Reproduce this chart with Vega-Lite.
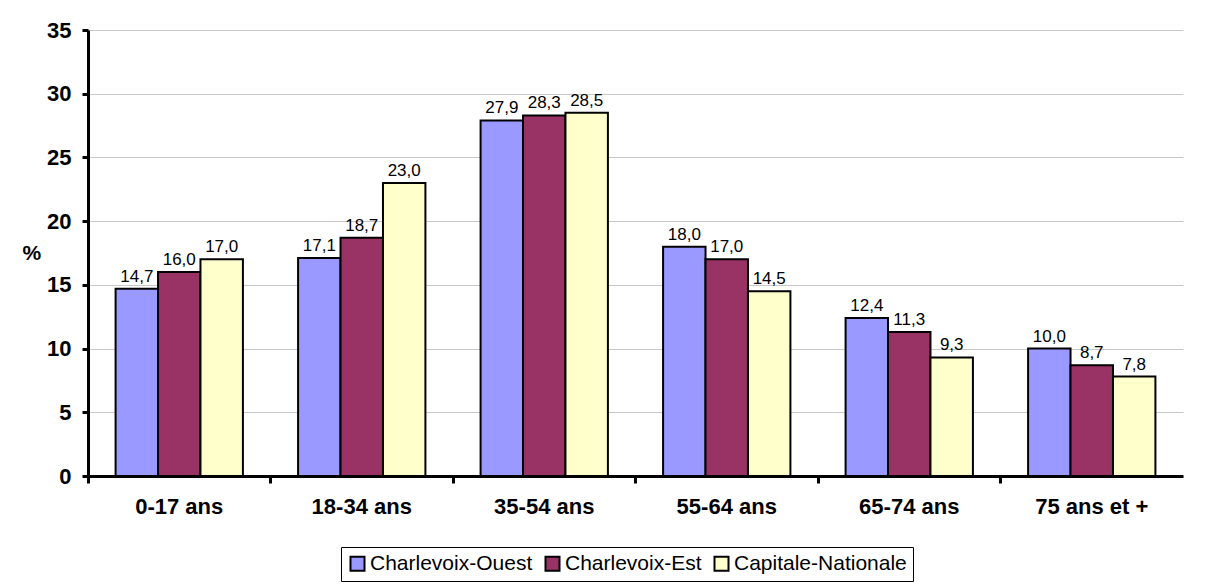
{
  "$schema": "https://vega.github.io/schema/vega-lite/v6.json",
  "width": 1095,
  "height": 446,
  "autosize": {"type": "none"},
  "padding": {"left": 88, "top": 30, "right": 32, "bottom": 112},
  "background": "white",
  "config": {
    "font": "Liberation Sans",
    "view": {"stroke": null},
    "locale": {"number": {"decimal": ",", "thousands": " ", "grouping": [3], "currency": ["", " $"]}}
  },
  "data": {
    "values": [
      {"age": "0-17 ans", "region": "Charlevoix-Ouest", "pct": 14.7},
      {"age": "0-17 ans", "region": "Charlevoix-Est", "pct": 16.0},
      {"age": "0-17 ans", "region": "Capitale-Nationale", "pct": 17.0},
      {"age": "18-34 ans", "region": "Charlevoix-Ouest", "pct": 17.1},
      {"age": "18-34 ans", "region": "Charlevoix-Est", "pct": 18.7},
      {"age": "18-34 ans", "region": "Capitale-Nationale", "pct": 23.0},
      {"age": "35-54 ans", "region": "Charlevoix-Ouest", "pct": 27.9},
      {"age": "35-54 ans", "region": "Charlevoix-Est", "pct": 28.3},
      {"age": "35-54 ans", "region": "Capitale-Nationale", "pct": 28.5},
      {"age": "55-64 ans", "region": "Charlevoix-Ouest", "pct": 18.0},
      {"age": "55-64 ans", "region": "Charlevoix-Est", "pct": 17.0},
      {"age": "55-64 ans", "region": "Capitale-Nationale", "pct": 14.5},
      {"age": "65-74 ans", "region": "Charlevoix-Ouest", "pct": 12.4},
      {"age": "65-74 ans", "region": "Charlevoix-Est", "pct": 11.3},
      {"age": "65-74 ans", "region": "Capitale-Nationale", "pct": 9.3},
      {"age": "75 ans et +", "region": "Charlevoix-Ouest", "pct": 10.0},
      {"age": "75 ans et +", "region": "Charlevoix-Est", "pct": 8.7},
      {"age": "75 ans et +", "region": "Capitale-Nationale", "pct": 7.8}
    ]
  },
  "encoding": {
    "x": {
      "field": "age", "type": "nominal", "sort": null,
      "scale": {"paddingInner": 0, "paddingOuter": 0},
      "axis": {
        "title": null, "labelAngle": 0, "bandPosition": 0, "labelLimit": 0,
        "labelFontSize": 22, "labelFontWeight": "bold", "labelColor": "black",
        "labelPadding": 13, "domainColor": "black", "domainWidth": 3,
        "tickColor": "black", "tickWidth": 3, "tickSize": 7, "grid": false
      }
    },
    "xOffset": {
      "field": "region", "type": "nominal", "sort": ["Charlevoix-Ouest", "Charlevoix-Est", "Capitale-Nationale"],
      "scale": {"paddingInner": 0, "paddingOuter": 0.65}
    },
    "y": {
      "field": "pct", "type": "quantitative",
      "scale": {"domain": [0, 35], "nice": false},
      "axis": {
        "title": "%", "titleAngle": 0, "titleFontSize": 21, "titleFontWeight": "bold",
        "titleX": -66, "titleY": 223, "titleAlign": "left", "titleBaseline": "middle",
        "values": [0, 5, 10, 15, 20, 25, 30, 35],
        "labelFontSize": 22, "labelFontWeight": "bold", "labelColor": "black",
        "labelPadding": 11,
        "domainColor": "black", "domainWidth": 3,
        "tickColor": "black", "tickWidth": 3, "tickSize": 6,
        "grid": true, "gridColor": "#c8c8c8", "gridWidth": 1
      }
    }
  },
  "layer": [
    {
      "mark": {"type": "bar", "stroke": "black", "strokeWidth": 2},
      "encoding": {
        "color": {
          "field": "region", "type": "nominal",
          "sort": ["Charlevoix-Ouest", "Charlevoix-Est", "Capitale-Nationale"],
          "scale": {"domain": ["Charlevoix-Ouest", "Charlevoix-Est", "Capitale-Nationale"], "range": ["#9999FF", "#993366", "#FFFFCC"]},
          "legend": {
            "title": null, "orient": "none", "direction": "horizontal",
            "legendX": 253, "legendY": 517,
            "symbolType": "square", "symbolSize": 196, "symbolStrokeColor": "black", "symbolStrokeWidth": 2,
            "symbolOpacity": 1, "labelLimit": 400,
            "labelFontSize": 21, "labelColor": "black", "labelOffset": 2,
            "columnPadding": 8, "padding": 6,
            "strokeColor": "black", "fillColor": "white"
          }
        }
      }
    },
    {
      "mark": {"type": "text", "dy": -12, "fontSize": 17, "color": "black"},
      "encoding": {
        "text": {"field": "pct", "type": "quantitative", "format": ".1f"}
      }
    }
  ]
}
